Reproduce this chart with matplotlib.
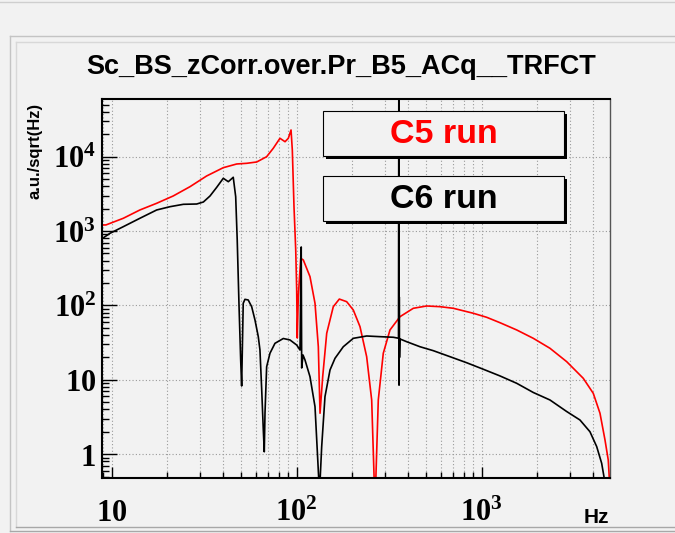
import numpy as np
import matplotlib
matplotlib.use('Agg')
import matplotlib.pyplot as plt
from matplotlib.ticker import FixedLocator, FuncFormatter, LogLocator, NullFormatter
from matplotlib.patches import Rectangle
from matplotlib.lines import Line2D

# Chart data
title = 'Sc_BS_zCorr.over.Pr_B5_ACq__TRFCT'
series_labels = ['C5 run', 'C6 run']
series_colors = ['#ff0000', '#000000']

freq_c5 = [8.83, 9.31, 11.55, 14.2, 17.5, 21.5, 26.5, 32.6, 40.1, 47.4, 53.7,
           60.8, 68.8, 74.7, 81.2, 86.5, 90.1, 93.2, 94.7, 96.7, 98.8, 100.0,
           100.7, 102.0, 105.1, 108.6, 118.0, 125.6, 130.9, 133.7, 138.2,
           145.3, 157.7, 170.0, 186.3, 202.3, 219.9, 238.9, 254.3, 265.0,
           276.1, 293.8, 319.4, 361.7, 426.9, 504.3, 595.2, 702.3, 901, 1064,
           1256, 1546, 1901, 2339, 2879, 3541, 4010, 4360, 4640, 4831, 4950]
amp_c5 = [1208, 1210, 1486, 1922, 2364, 2965, 3953, 5506, 7117, 7980, 8150,
          8490, 10000, 12970, 17670, 15900, 17670, 22860, 12300, 2128, 557, 161,
          36.6, 131, 431, 409, 244, 107, 27.9, 3.56, 11.0,
          42.3, 96.4, 122, 112.5, 87, 51.9, 20.5, 5.37, 0.2,
          5.37, 22.8, 46.9, 70.7, 91.7, 98.5, 96.4, 91.7, 78.6, 69.4,
          58.7, 46.9, 36.2, 26.6, 17.6, 10.5, 6.6, 3.56, 1.56, 0.84, 0.3]

freq_c6 = [8.86, 9.79, 11.55, 14.2, 17.5, 20.66, 24.4, 28.8, 31.3, 34.0, 36.96,
           40.1, 42.7, 45.4, 46.8, 47.7, 48.8, 49.8, 50.4, 51.4, 52.5, 54.7,
           57.1, 59.5, 62.0, 63.3, 64.7, 66.0, 66.8, 67.4, 68.8, 71.7, 76.3,
           84.65, 92.0, 100.0, 104.2, 105.8, 106.4, 108.2, 110.9, 118.0, 125.6,
           132.8, 136.5, 142.2, 151.4, 161.1, 178.6, 202.3, 238.9, 282.1, 332.9,
           355.1, 356.5, 357.5, 358.5, 359.5, 361.5, 393.1, 464.1, 547.5, 674.1,
           829.8, 1020, 1256, 1546, 1901, 2339, 2879, 3398, 3848, 4184, 4452,
           4581, 4640]
amp_c6 = [790, 934, 1146, 1486, 1922, 2128, 2291, 2312, 2460, 2965, 3878,
          5126, 4613, 5287, 2900, 759, 96.4, 18.5, 8.28, 107, 121, 118.6,
          96.4, 63.8, 38.1, 25.2, 7.32, 2.12, 1.08, 3.59, 15.0, 22.8, 31.0,
          36.0, 34.4, 29.4, 25.2, 611, 14.45, 21.6, 18.5, 11.04, 4.36,
          0.3, 1.27, 5.95, 13.6, 19.5, 27.9, 36.2, 38.9, 38.1, 37.4,
          36.3, 1e5, 8.5, 130, 20, 35.5, 32.6, 27.9, 24.7, 20.5,
          17.0, 13.9, 11.3, 9.0, 6.77, 5.37, 3.76, 2.89, 2.01, 1.27, 0.757,
          0.5, 0.3]

x_major = [10, 100, 1000]
y_major = [1, 10, 100, 1000, 10000]

W, H = 675, 533
BG = '#f2f2f2'


def fx(px):
    return px / W


def fy(py):
    return 1 - py / H


def log_label(v, pos):
    e = int(round(np.log10(v)))
    if e == 0:
        return r'$\mathbf{1}$'
    if e == 1:
        return r'$\mathbf{10}$'
    return r'$\mathbf{10^{%d}}$' % e


plt.rcParams['font.family'] = ['Liberation Sans', 'DejaVu Sans']
plt.rcParams['mathtext.fontset'] = 'custom'
plt.rcParams['mathtext.rm'] = 'Liberation Serif'
plt.rcParams['mathtext.bf'] = 'Liberation Serif:bold'

fig = plt.figure(figsize=(W / 100, H / 100), dpi=100, facecolor=BG)

# ROOT style canvas / pad borders
fig.add_artist(Line2D([0, 1], [fy(1.7)] * 2, color='#cfcfcf', lw=1))
fig.add_artist(Line2D([fx(9.5), 1], [fy(36.4)] * 2, color='#c4c4c4', lw=1))
fig.add_artist(Line2D([fx(16.4), 1], [fy(41.5)] * 2, color='#d8d8d8', lw=1))
fig.add_artist(Line2D([fx(9.5)] * 2, [fy(36.4), fy(530.6)], color='#c4c4c4', lw=1))
fig.add_artist(Line2D([fx(16.4)] * 2, [fy(41.5), fy(526.5)], color='#d8d8d8', lw=1))
fig.add_artist(Line2D([fx(16.4), 1], [fy(526.5)] * 2, color='#a8a8a8', lw=1))
fig.add_artist(Line2D([fx(9.5), 1], [fy(530.6)] * 2, color='#a8a8a8', lw=1))

ax = fig.add_axes([fx(101.7), fy(477.7), fx(610.3) - fx(101.7), fy(99.3) - fy(477.7)])
ax.set_facecolor(BG)

ax.plot(freq_c5, amp_c5, color=series_colors[0], lw=1.2)
ax.plot(freq_c6, amp_c6, color=series_colors[1], lw=1.2)

ax.set_xscale('log')
ax.set_yscale('log')
ax.set_xlim(8.83, 4957)
ax.set_ylim(0.4845, 59080)

ax.xaxis.set_major_locator(FixedLocator(x_major))
ax.xaxis.set_minor_locator(LogLocator(base=10, subs=np.arange(2, 10)))
ax.xaxis.set_major_formatter(FuncFormatter(log_label))
ax.xaxis.set_minor_formatter(NullFormatter())
ax.yaxis.set_major_locator(FixedLocator(y_major))
ax.yaxis.set_minor_locator(LogLocator(base=10, subs=np.arange(2, 10)))
ax.yaxis.set_major_formatter(FuncFormatter(log_label))
ax.yaxis.set_minor_formatter(NullFormatter())

ax.grid(True, which='both', axis='x', color='#9a9a9a', lw=0.8, ls=(0, (1, 2)))
ax.grid(True, which='major', axis='y', color='#9a9a9a', lw=0.8, ls=(0, (1, 2)))

ax.tick_params(axis='both', which='both', direction='in', top=False, right=False,
               width=1.0, color='black')
ax.tick_params(axis='x', which='major', length=8, pad=31.5, labelsize=22)
ax.tick_params(axis='x', which='minor', length=4)
ax.tick_params(axis='y', which='major', length=10.8, pad=4, labelsize=22)
ax.tick_params(axis='y', which='minor', length=5)
plt.setp(ax.xaxis.get_majorticklabels(), va='baseline')

for side in ['left', 'bottom', 'top']:
    ax.spines[side].set_color('black')
    ax.spines[side].set_linewidth(1.5)
ax.spines['right'].set_color('#555555')
ax.spines['right'].set_linewidth(1.0)

# Title and axis titles
fig.text(fx(341), fy(74), title, ha='center', va='baseline',
         fontsize=19.5, fontweight='bold')
fig.text(fx(609), fy(523), 'Hz', ha='right', va='baseline',
         fontsize=15, fontweight='bold')
fig.text(fx(35), fy(103), 'a.u./sqrt(Hz)', ha='center', va='top',
         rotation=90, fontsize=12, fontweight='bold')

# Label boxes with shadows
box_left, box_right = 323.3, 564
box_rows = [(111, 156), (176, 220.7)]
for label, color, (top, bottom) in zip(series_labels, series_colors, box_rows):
    fig.add_artist(Rectangle((fx(box_left + 3), fy(bottom + 3)),
                             fx(box_right) - fx(box_left), (bottom - top) / H,
                             facecolor='black', edgecolor='none'))
    fig.add_artist(Rectangle((fx(box_left), fy(bottom)),
                             fx(box_right) - fx(box_left), (bottom - top) / H,
                             facecolor=BG, edgecolor='black', lw=0.8))
    fig.text(fx((box_left + box_right) / 2), fy((top + bottom) / 2 + 1), label,
             ha='center', va='center', color=color, fontsize=24.5,
             fontweight='bold', zorder=5)

fig.savefig('out.png', dpi=100, facecolor=BG)
